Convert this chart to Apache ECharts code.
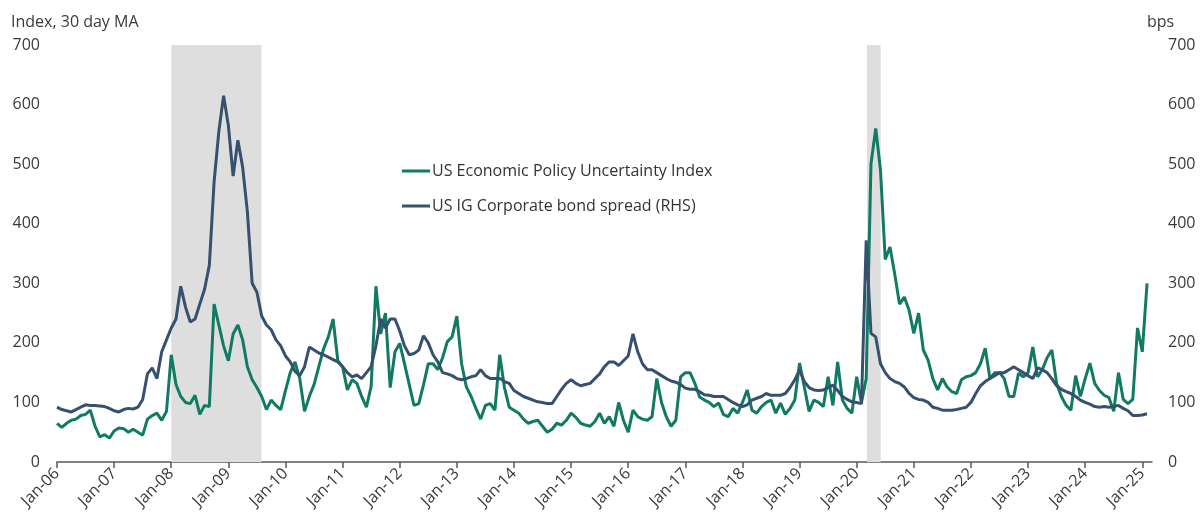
<!DOCTYPE html>
<html>
<head>
<meta charset="utf-8">
<script src="https://cdn.jsdelivr.net/npm/echarts@6/dist/echarts.min.js"></script>
<style>
  html, body { margin: 0; padding: 0; background: #fff; }
  #chart { width: 1203px; height: 524px; }
</style>
</head>
<body>
<div id="chart"></div>
<script>
// monthly readings, Jan 2006 onwards
var startYear = 2006
var yearTicks = [2006, 2007, 2008, 2009, 2010, 2011, 2012, 2013, 2014, 2015,
  2016, 2017, 2018, 2019, 2020, 2021, 2022, 2023, 2024, 2025]
var recessions = [[2008.0, 2009.58], [2020.18, 2020.42]]

// US Economic Policy Uncertainty Index (LHS)
var epu = [
  65, 58, 65, 70, 72, 78, 80, 87, 60, 42, 46, 40,
  52, 57, 56, 50, 55, 50, 45, 72, 78, 82, 70, 85,
  180, 130, 110, 100, 98, 112, 80, 95, 93, 265, 230, 195,
  170, 215, 230, 205, 160, 138, 125, 110, 88, 104, 95, 88,
  120, 150, 168, 140, 85, 110, 130, 160, 190, 210, 240, 170,
  160, 121, 138, 132, 110, 92, 127, 295, 215, 250, 125, 185,
  199, 165, 130, 95, 98, 130, 165, 165, 155, 175, 202, 210,
  245, 165, 126, 110, 90, 72, 95, 98, 87, 180, 125, 92,
  87, 82, 72, 65, 68, 70, 60, 50, 55, 65, 62, 70,
  82, 75, 65, 62, 60, 68, 82, 65, 76, 60, 100, 70,
  50, 87, 76, 72, 70, 76, 140, 100, 76, 60, 70, 143,
  150, 150, 132, 109, 104, 100, 93, 99, 80, 76, 90, 82,
  100, 121, 87, 82, 93, 100, 104, 82, 99, 80, 90, 104,
  166, 126, 85, 104, 100, 93, 143, 95, 168, 104, 90, 82,
  143, 100, 140, 500, 560, 490, 340, 361, 315, 265, 277, 255,
  216, 250, 188, 171, 140, 121, 140, 126, 118, 115, 138, 143,
  145, 150, 165, 191, 140, 150, 150, 140, 110, 110, 149, 143,
  150, 193, 143, 155, 175, 188, 132, 110, 95, 87, 145, 110,
  140, 166, 132, 120, 112, 108, 85, 150, 105, 98, 105, 225,
  185, 300
]

// US IG corporate bond spread, bps (RHS)
var igSpread = [
  92, 88, 86, 84, 88, 92, 96, 95, 95, 94, 93, 90,
  86, 84, 88, 90, 89, 92, 105, 148, 158, 140, 185, 205,
  225, 240, 295, 260, 235, 240, 265, 290, 330, 470, 555, 615,
  565, 480, 540, 495, 420, 300, 285, 245, 230, 222, 205, 195,
  178, 168, 152, 145, 160, 193, 188, 183, 180, 176, 172, 168,
  160, 150, 143, 146, 140, 150, 160, 195, 240, 225, 240, 240,
  220, 195, 180, 182, 188, 212, 200, 180, 168, 150, 148, 145,
  140, 138, 140, 143, 145, 155, 145, 140, 140, 140, 135, 132,
  120, 115, 110, 107, 104, 101, 100, 98, 98, 110, 122, 132,
  138, 132, 128, 130, 132, 140, 148, 160, 168, 168, 162, 170,
  178, 215, 185, 165, 155, 155, 150, 145, 140, 136, 134, 130,
  124, 122, 122, 118, 113, 112, 110, 110, 110, 105, 100, 96,
  93, 96, 104, 107, 110, 115, 112, 112, 112, 115, 125, 138,
  154, 135, 125, 121, 120, 121, 125, 129, 120, 110, 105, 101,
  100, 98, 372, 216, 210, 165, 150, 140, 135, 132, 126, 115,
  108, 105, 104, 100, 92, 90, 87, 87, 87, 88, 90, 92,
  100, 115, 128, 135, 140, 145, 150, 150, 155, 160, 155, 150,
  145, 140, 158, 155, 150, 140, 128, 122, 118, 115, 110, 104,
  100, 97, 93, 92, 93, 92, 93, 95, 90, 86, 78, 78,
  79, 81
]

function toPairs(arr) {
  return arr.map(function (v, i) { return [startYear + i / 12, v] })
}

var textColor = '#3a3a3a'
var fontFamily = '"Open Sans", "Noto Sans", sans-serif'

var chart = echarts.init(document.getElementById('chart'), null, { renderer: 'canvas' })
chart.setOption({
  animation: false,
  textStyle: { fontFamily: fontFamily },
  grid: { left: 57, right: 51, top: 45, bottom: 62 },
  legend: {
    orient: 'vertical',
    left: 397,
    top: 158,
    itemWidth: 28,
    itemHeight: 3,
    itemGap: 19,
    icon: 'rect',
    textStyle: { fontSize: 16, color: '#333', fontFamily: fontFamily, padding: [0, 0, 0, -3] },
    data: ['US Economic Policy Uncertainty Index', 'US IG Corporate bond spread (RHS)']
  },
  xAxis: {
    type: 'value',
    min: 2006,
    max: 2025.17,
    splitLine: { show: false },
    axisLine: { show: true, onZero: false, lineStyle: { color: '#595959', width: 1.5 } },
    axisTick: { show: true, length: 6, customValues: yearTicks, lineStyle: { color: '#595959', width: 1.5 } },
    axisLabel: {
      customValues: yearTicks,
      rotate: 45,
      margin: 9,
      fontSize: 16,
      color: textColor,
      formatter: function (v) { return 'Jan-' + String(Math.round(v)).slice(2) }
    }
  },
  yAxis: [
    {
      type: 'value',
      min: 0, max: 700, interval: 100,
      name: 'Index, 30 day MA',
      nameLocation: 'end',
      nameGap: 15,
      nameTextStyle: { align: 'left', fontSize: 16, color: textColor, padding: [0, 0, 0, -46] },
      splitLine: { show: false },
      axisLine: { show: false },
      axisTick: { show: false },
      axisLabel: { fontSize: 16, color: textColor, margin: 17 }
    },
    {
      type: 'value',
      min: 0, max: 700, interval: 100,
      name: 'bps',
      nameLocation: 'end',
      nameGap: 15,
      nameTextStyle: { align: 'left', fontSize: 16, color: textColor, padding: [0, 0, 0, -5] },
      splitLine: { show: false },
      axisLine: { show: false },
      axisTick: { show: false },
      axisLabel: { fontSize: 16, color: textColor, margin: 16 }
    }
  ],
  series: [
    {
      name: 'US Economic Policy Uncertainty Index',
      type: 'line',
      yAxisIndex: 0,
      data: toPairs(epu),
      showSymbol: false,
      color: '#117a63',
      lineStyle: { width: 3, color: '#117a63' },
      markArea: {
        silent: true,
        itemStyle: { color: '#dedede' },
        data: recessions.map(function (r) { return [{ xAxis: r[0] }, { xAxis: r[1] }] })
      },
      z: 2
    },
    {
      name: 'US IG Corporate bond spread (RHS)',
      type: 'line',
      yAxisIndex: 1,
      data: toPairs(igSpread),
      showSymbol: false,
      color: '#36506f',
      lineStyle: { width: 3, color: '#36506f' },
      z: 3
    }
  ]
})
</script>
</body>
</html>
